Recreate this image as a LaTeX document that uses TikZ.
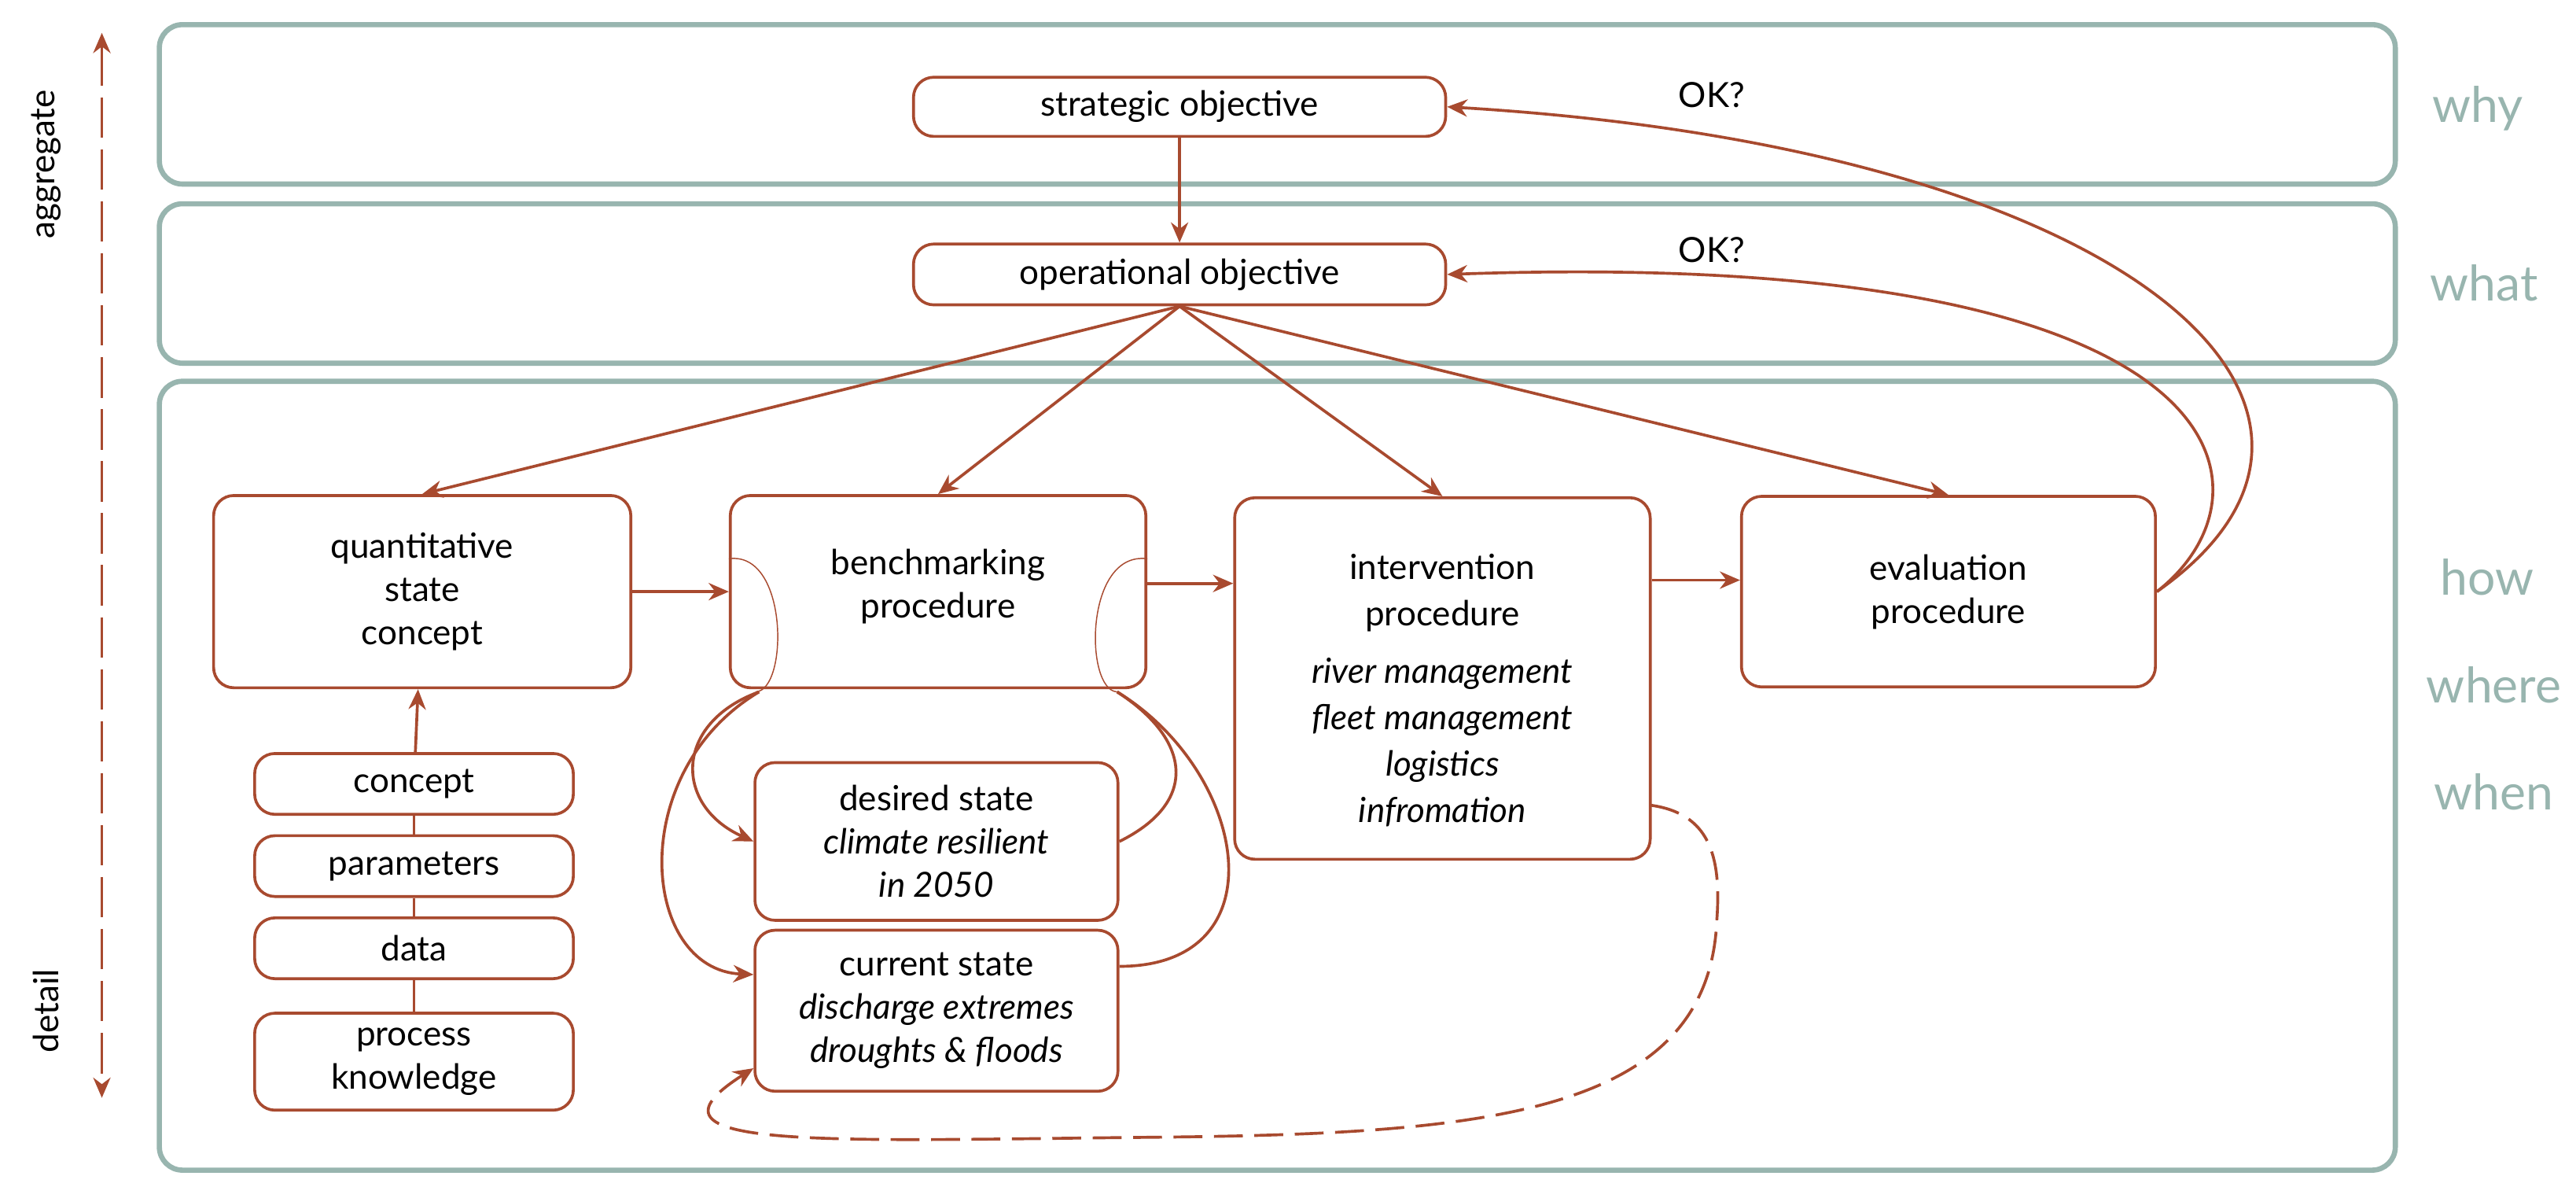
\documentclass[tikz,border=0pt]{standalone}
\usepackage{fontspec}
\setmainfont{Lato}
\usetikzlibrary{arrows.meta}
\definecolor{br}{HTML}{A84A2F}
\definecolor{tl}{HTML}{98B5AF}
\begin{document}
\begin{tikzpicture}[x=0.02cm,y=-0.02cm,
  font=\fontsize{12}{15}\selectfont,
  frame/.style={draw=tl,line width=1.8pt,rounded corners=8pt},
  bx/.style={draw=br,line width=1pt,rounded corners=7pt,align=center,inner sep=2pt},
  lab/.style={text=tl,font=\fontsize{17}{20}\selectfont},
  ar/.style={draw=br,line width=1pt,-{Stealth[length=7pt,width=6pt]}},
  ln/.style={draw=br,line width=1pt}]
\useasboundingbox (0,0) rectangle (1568,722);
\draw[frame] (97,15) rectangle (1458,112);
\draw[frame] (97,124) rectangle (1458,221);
\draw[frame] (97,232) rectangle (1458,712);
\node[lab] (why) at (1508,66) {why};
\node[lab] (what) at (1512,172) {what};
\node[lab] (how) at (1514,351) {how};
\node[lab] (where) at (1518,417) {where};
\node[lab] (when) at (1518,482) {when};
\coordinate (at) at (62,20);
\coordinate (ab) at (62,668);
\draw[br,line width=1pt,dash pattern=on 14pt off 4pt,{Stealth[length=7pt,width=6pt]}-{Stealth[length=7pt,width=6pt]}] (at) -- (ab);
\node[rotate=90] (agg) at (28,100) {aggregate};
\node[rotate=90] (det) at (28,615) {detail};
\node[bx,minimum width=6.48cm,minimum height=0.72cm] (so) at (718,65) {strategic objective};
\node[bx,minimum width=6.48cm,minimum height=0.74cm] (oo) at (718,167) {operational objective};
\node[bx,minimum width=5.08cm,minimum height=2.34cm] (qs) at (257,360) {quantitative\\state\\concept};
\node[bx,minimum width=5.06cm,minimum height=2.34cm] (bp) at (571,360) {};
\node (bpt) at (571,357) [align=center] {benchmarking\\procedure};
\node[bx,minimum width=5.06cm,minimum height=4.4cm,anchor=north] (ip) at (878,302) {};
\node (ipt) at (878,420) [align=center,font=\fontsize{12}{16}\selectfont] {intervention\\procedure\\[4pt]\itshape river management\\\itshape fleet management\\\itshape logistics\\\itshape infromation};
\node[bx,minimum width=5.04cm,minimum height=2.32cm] (ep) at (1186,360) {evaluation\\procedure};
\node[bx,minimum width=3.88cm,minimum height=0.74cm] (c1) at (252,477) {concept};
\node[bx,minimum width=3.88cm,minimum height=0.74cm] (c2) at (252,527) {parameters};
\node[bx,minimum width=3.88cm,minimum height=0.74cm] (c3) at (252,577) {data};
\node[bx,minimum width=3.88cm,minimum height=1.18cm] (c4) at (252,646) {process\\knowledge};
\node[bx,minimum width=4.42cm,minimum height=1.92cm] (ds) at (570,512) {desired state\\\itshape climate resilient\\\itshape in 2050};
\node[bx,minimum width=4.42cm,minimum height=1.96cm] (cs) at (570,615) {current state\\\itshape discharge extremes\\\itshape droughts \& floods};
\draw[ar] (so) -- (oo);
\draw[ar] (oo.south) -- (qs.north);
\draw[ar] (oo.south) -- (bp.north);
\draw[ar] (oo.south) -- (ip.north);
\draw[ar] (oo.south) -- (ep.north);
\draw[ar] (qs.east) -- (bp.west);
\draw[ar] ([yshift=0.1cm]bp.east) -- ([yshift=0.1cm]ip.west|-bp.east);
\draw[ar] ([yshift=0.14cm]ep.west-|ip.east) -- ([yshift=0.14cm]ep.west);
\draw[ar] (c1) -- (qs);
\draw[ln] (c1) -- (c2) (c2) -- (c3) (c3) -- (c4);
\draw[ar] (ep.east) .. controls (1390,300) and (1370,150) .. (oo.east);
\draw[ar] (ep.east) .. controls (1470,250) and (1300,90) .. (so.east);
\node (ok1) at (1042,58) {OK?};
\node (ok2) at (1042,152) {OK?};
% benchmarking loops
\draw[br,line width=0.4pt] (bp.west|-0,340) .. controls (480,335) and (480,420) .. (460,421);
\draw[br,line width=0.4pt] (bp.east|-0,340) .. controls (660,335) and (660,420) .. (680,421);
\draw[ar] (462,421) .. controls (410,440) and (410,490) .. (ds.west);
\draw[ar] (462,421) .. controls (380,470) and (390,590) .. (cs.west|-0,593);
\draw[ln] (ds.east) .. controls (730,488) and (725,450) .. (680,421);
\draw[ln] (cs.east|-0,588) .. controls (780,588) and (760,470) .. (680,421);
\coordinate (d0) at (1005,490);
\coordinate (d1) at (1045,560);
\draw[br,line width=1pt,dash pattern=on 10pt off 4pt,-{Stealth[length=7pt,width=6pt]}] (d0) .. controls (1040,495) and (1048,520) .. (d1) .. controls (1040,680) and (900,690) .. (700,692) .. controls (500,694) and (380,700) .. (cs.west|-0,650);
\end{tikzpicture}
\end{document}
